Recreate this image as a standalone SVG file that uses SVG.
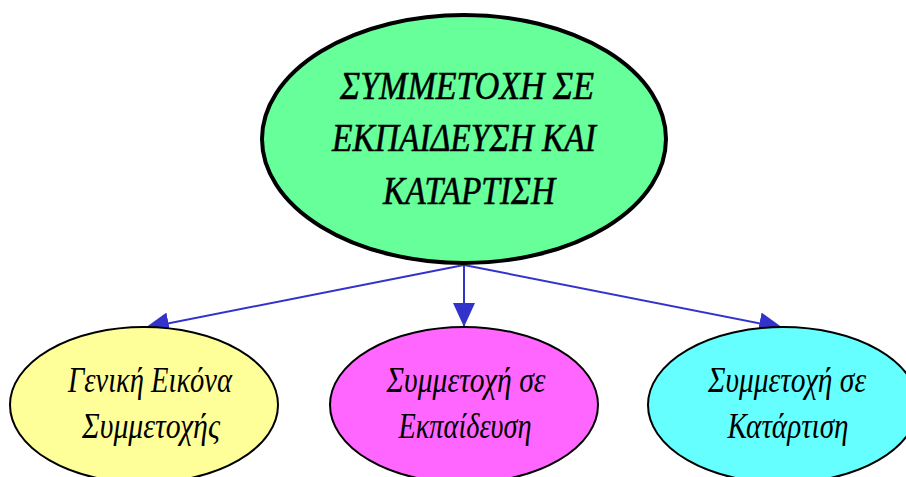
<svg xmlns="http://www.w3.org/2000/svg" width="906" height="477" viewBox="0 0 906 477">
<defs>
<marker id="ah" viewBox="0 0 24 22" refX="24" refY="11" markerWidth="24" markerHeight="22" markerUnits="userSpaceOnUse" orient="auto">
<path d="M0,0 L24,11 L0,22 Z" fill="#3333CC"/>
</marker>
</defs>
<style>
.t{font-family:"Liberation Serif","DejaVu Serif",serif;font-style:italic;fill:#000;text-anchor:middle}
.top{font-size:40px;stroke:#000;stroke-width:0.6}
.sub{font-size:35px}
.e{stroke:#000;stroke-width:2}
.c{stroke:#3333CC;stroke-width:2;fill:none;marker-end:url(#ah)}
</style>
<rect width="906" height="477" fill="#fff"/>
<g id="connectors">
<line class="c" x1="464" y1="265" x2="145" y2="328"/>
<line class="c" x1="464" y1="265" x2="464" y2="327"/>
<line class="c" x1="464" y1="265" x2="783" y2="328"/>
</g>
<g id="root">
<ellipse cx="464" cy="139" rx="202" ry="124" fill="#66FF99" stroke="#000" stroke-width="4"/>
<text class="t top" x="467" y="99" textLength="254" lengthAdjust="spacingAndGlyphs">ΣΥΜΜΕΤΟΧΗ ΣΕ</text>
<text class="t top" x="464" y="151" textLength="264" lengthAdjust="spacingAndGlyphs">ΕΚΠΑΙΔΕΥΣΗ ΚΑΙ</text>
<text class="t top" x="469" y="204" textLength="172" lengthAdjust="spacingAndGlyphs">ΚΑΤΑΡΤΙΣΗ</text>
</g>
<g id="general">
<ellipse class="e" cx="144" cy="405" rx="134" ry="78" fill="#FFFF99"/>
<text class="t sub" x="150" y="392" textLength="164" lengthAdjust="spacingAndGlyphs">Γενική Εικόνα</text>
<text class="t sub" x="151" y="438" textLength="138" lengthAdjust="spacingAndGlyphs">Συμμετοχής</text>
</g>
<g id="education">
<ellipse class="e" cx="464" cy="405" rx="134" ry="78" fill="#FF66FF"/>
<text class="t sub" x="466" y="392" textLength="159" lengthAdjust="spacingAndGlyphs">Συμμετοχή σε</text>
<text class="t sub" x="465" y="438" textLength="133" lengthAdjust="spacingAndGlyphs">Εκπαίδευση</text>
</g>
<g id="training">
<ellipse class="e" cx="783" cy="405" rx="135" ry="78" fill="#66FFFF"/>
<text class="t sub" x="787" y="392" textLength="158" lengthAdjust="spacingAndGlyphs">Συμμετοχή σε</text>
<text class="t sub" x="788" y="438" textLength="121" lengthAdjust="spacingAndGlyphs">Κατάρτιση</text>
</g>
</svg>
